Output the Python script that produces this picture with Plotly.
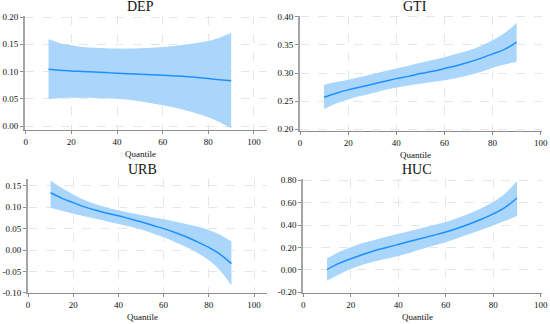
import plotly.graph_objects as go

quantile = [10, 15, 20, 25, 30, 35, 40, 45, 50, 55, 60, 65, 70, 75, 80, 85, 90]

dep_est = [0.104, 0.1025, 0.101, 0.100, 0.099, 0.098, 0.097, 0.096, 0.095, 0.094, 0.093, 0.092, 0.091, 0.089, 0.087, 0.085, 0.083]
dep_up  = [0.159, 0.152, 0.148, 0.145, 0.1435, 0.1425, 0.142, 0.142, 0.1425, 0.1435, 0.145, 0.147, 0.1495, 0.1525, 0.156, 0.162, 0.171]
dep_lo  = [0.049, 0.0515, 0.052, 0.052, 0.0515, 0.051, 0.050, 0.048, 0.0455, 0.042, 0.038, 0.034, 0.029, 0.023, 0.016, 0.007, -0.004]

gti_est = [0.257, 0.264, 0.270, 0.275, 0.280, 0.285, 0.290, 0.294, 0.299, 0.303, 0.308, 0.313, 0.319, 0.326, 0.334, 0.342, 0.355]
gti_up  = [0.279, 0.284, 0.288, 0.293, 0.298, 0.303, 0.308, 0.313, 0.318, 0.323, 0.328, 0.334, 0.340, 0.348, 0.358, 0.371, 0.389]
gti_lo  = [0.236, 0.246, 0.253, 0.259, 0.264, 0.270, 0.274, 0.278, 0.281, 0.284, 0.287, 0.291, 0.296, 0.302, 0.309, 0.315, 0.320]

urb_est = [0.134, 0.121, 0.111, 0.101, 0.093, 0.086, 0.080, 0.073, 0.066, 0.058, 0.050, 0.041, 0.031, 0.019, 0.006, -0.010, -0.032]
urb_up  = [0.163, 0.145, 0.130, 0.117, 0.107, 0.099, 0.093, 0.087, 0.082, 0.077, 0.072, 0.067, 0.061, 0.055, 0.047, 0.036, 0.020]
urb_lo  = [0.099, 0.092, 0.085, 0.079, 0.073, 0.067, 0.061, 0.055, 0.048, 0.039, 0.030, 0.019, 0.007, -0.007, -0.024, -0.048, -0.083]

huc_est = [0.003, 0.058, 0.099, 0.138, 0.171, 0.200, 0.227, 0.255, 0.283, 0.310, 0.338, 0.372, 0.410, 0.452, 0.500, 0.558, 0.642]
huc_up  = [0.104, 0.160, 0.203, 0.240, 0.268, 0.296, 0.322, 0.348, 0.373, 0.400, 0.428, 0.463, 0.503, 0.550, 0.606, 0.682, 0.794]
huc_lo  = [-0.096, -0.040, 0.009, 0.046, 0.076, 0.100, 0.124, 0.154, 0.186, 0.217, 0.248, 0.283, 0.320, 0.358, 0.397, 0.438, 0.481]

titles = ["DEP", "GTI", "URB", "HUC"]
dep_ticks = [0.00, 0.05, 0.10, 0.15, 0.20]
gti_ticks = [0.20, 0.25, 0.30, 0.35, 0.40]
urb_ticks = [-0.10, -0.05, 0.00, 0.05, 0.10, 0.15]
huc_ticks = [-0.20, 0.00, 0.20, 0.40, 0.60, 0.80]
x_ticks = [0, 20, 40, 60, 80, 100]
x_title = "Quantile"

W, H = 550, 324
FONT = "Liberation Serif"
BAND = "rgb(170,214,252)"
LINE = "rgb(30,144,255)"
AX = "#8c8c8c"
YAX = "#a6a6a6"
GRID = "#e6e6e6"

panels = [
    dict(est=dep_est, up=dep_up, lo=dep_lo, ticks=dep_ticks,
         px=(25, 267), xr=(-0.3, 105.7), py=(15.7, 130.0), yr=(-0.0073, 0.2024)),
    dict(est=gti_est, up=gti_up, lo=gti_lo, ticks=gti_ticks,
         px=(300, 541.7), xr=(0, 100.4), py=(15.7, 130.7), yr=(0.1975, 0.4018)),
    dict(est=urb_est, up=urb_up, lo=urb_lo, ticks=urb_ticks,
         px=(28, 267), xr=(0, 105.75), py=(178.7, 293.3), yr=(-0.1014, 0.167)),
    dict(est=huc_est, up=huc_up, lo=huc_lo, ticks=huc_ticks,
         px=(303.3, 541.7), xr=(0, 100.4), py=(178.7, 293.0), yr=(-0.206, 0.814)),
]

def lab(v):
    return f"{v:.2f}"

fig = go.Figure()
layout = dict(width=W, height=H, margin=dict(l=0, r=0, t=0, b=0, autoexpand=False),
              paper_bgcolor="white", plot_bgcolor="white", showlegend=False,
              font=dict(family=FONT, size=9, color="#111"))
annotations = []
for i, p in enumerate(panels):
    n = "" if i == 0 else str(i + 1)
    xa, ya = "x" + n, "y" + n
    fig.add_trace(go.Scatter(x=quantile, y=p["lo"], mode="lines",
                             line=dict(width=0, shape="spline", color=BAND),
                             hoverinfo="skip", xaxis=xa, yaxis=ya))
    fig.add_trace(go.Scatter(x=quantile, y=p["up"], mode="lines", fill="tonexty",
                             fillcolor=BAND, line=dict(width=0, shape="spline", color=BAND),
                             hoverinfo="skip", xaxis=xa, yaxis=ya))
    fig.add_trace(go.Scatter(x=quantile, y=p["est"], mode="lines",
                             line=dict(color=LINE, width=1.5, shape="spline"),
                             xaxis=xa, yaxis=ya))
    xd = [p["px"][0] / W, p["px"][1] / W]
    yd = [1 - p["py"][1] / H, 1 - p["py"][0] / H]
    common = dict(ticks="outside", ticklen=3, tickcolor=AX,
                  showgrid=True, gridcolor=GRID, griddash="dash", gridwidth=1,
                  zeroline=False, automargin=False,
                  tickfont=dict(size=9, family=FONT, color="#111"))
    layout["xaxis" + n] = dict(domain=xd, range=list(p["xr"]), anchor=ya,
                               showline=True, linecolor=AX, linewidth=1,
                               tickvals=x_ticks, ticktext=[str(t) for t in x_ticks], **common)
    layout["yaxis" + n] = dict(domain=yd, range=list(p["yr"]), anchor=xa,
                               showline=True, linecolor=YAX, linewidth=2,
                               tickvals=p["ticks"], ticktext=[lab(t) for t in p["ticks"]], **common)
    annotations.append(dict(text=titles[i], x=(xd[0] + xd[1]) / 2 - 0.01, xref="paper",
                            y=1 - (p["py"][0] - 9) / H, yref="paper",
                            showarrow=False, font=dict(size=14, family=FONT, color="#111"),
                            yanchor="middle", xanchor="center"))
    annotations.append(dict(text=x_title, x=(xd[0] + xd[1]) / 2 - 0.01, xref="paper",
                            y=1 - (p["py"][1] + 24) / H, yref="paper",
                            showarrow=False, font=dict(size=9, family=FONT, color="#111"),
                            yanchor="middle", xanchor="center"))
layout["annotations"] = annotations
fig.update_layout(**layout)
fig.write_html("out.html", config={"displayModeBar": False},
               post_script="document.body.style.margin='0';document.body.style.overflow='hidden';")
